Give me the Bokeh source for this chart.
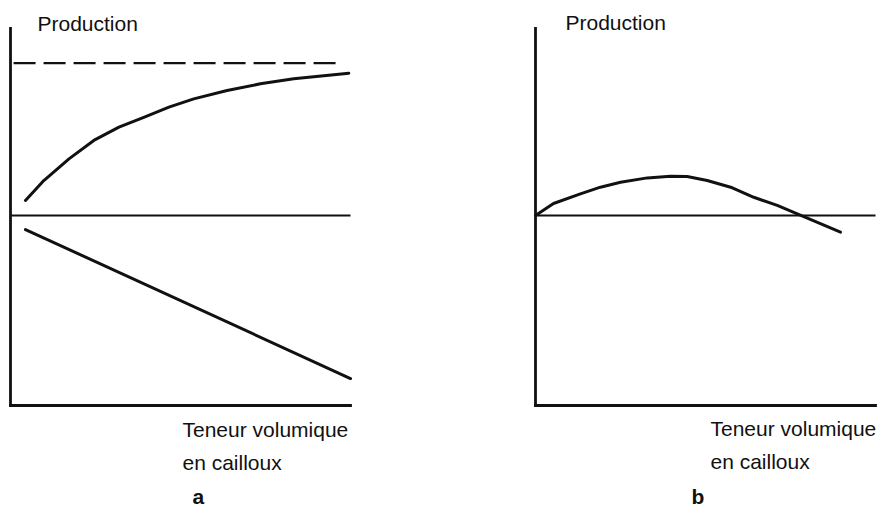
from bokeh.plotting import figure
from bokeh.layouts import row
from bokeh.models import Range1d, FixedTicker
from bokeh.embed import file_html
from bokeh.resources import INLINE
from bokeh.core.properties import value

# ---------------- data (x: stone content 0-100, y: production, 0 = reference) ----
# panel a
curve_a_x = [4.4, 9.8, 17.2, 24.5, 31.9, 39.2, 46.6, 53.9, 63.7, 73.5, 83.3, 99.5]
curve_a_y = [7.9, 18.4, 29.8, 39.5, 46.5, 51.7, 57.0, 61.4, 65.8, 69.3, 72.0, 74.9]
line_a_x = [4.4, 100.0]
line_a_y = [-7.4, -85.8]
plateau_a_x = [0.9, 97.1]
plateau_a_y = [80.2, 80.2]
# panel b
curve_b_x = [0.0, 5.3, 13.2, 19.1, 25.0, 32.9, 39.7, 44.6, 50.5, 57.4, 64.2, 71.1, 77.0, 89.7]
curve_b_y = [0.0, 6.3, 11.4, 14.9, 17.5, 19.8, 20.7, 20.5, 18.4, 14.9, 9.6, 5.3, 0.9, -8.8]

reference_level = 0.0
x_axis_end = 100.0
y_axis_start = -100.0
y_axis_end = 98.4

y_title = "Production"
x_title_1 = "Teneur volumique"
x_title_2 = "en cailloux"
panel_names = ["a", "b"]

# ---------------- layout ----------------
W, H = 440, 510
PX_X, PX_Y = 3.4, 1.9          # pixels per data unit
ZERO_PAGE_Y = 215              # page y of reference level
FONT = value("Liberation Sans")
INK = "#111111"


def make_panel(canvas_left, origin_x):
    x0 = (canvas_left - origin_x) / PX_X
    x1 = (canvas_left + W - origin_x) / PX_X
    y1 = ZERO_PAGE_Y / PX_Y
    y0 = -(H - ZERO_PAGE_Y) / PX_Y
    p = figure(width=W, height=H, x_range=Range1d(x0, x1), y_range=Range1d(y0, y1),
               output_backend="svg", toolbar_location=None, min_border=0,
               background_fill_color="white", border_fill_color="white")
    p.outline_line_color = None
    p.grid.visible = False
    for ax in p.axis:
        ax.ticker = FixedTicker(ticks=[])
        ax.major_tick_line_color = None
        ax.minor_tick_line_color = None
        ax.major_label_text_color = None
        ax.axis_line_width = 2.8
        ax.axis_line_color = INK
        ax.axis_line_cap = "square"
    p.yaxis.fixed_location = 0
    p.yaxis.bounds = (y_axis_start, y_axis_end)
    p.xaxis.fixed_location = y_axis_start
    p.xaxis.bounds = (0, x_axis_end)

    def to_data(px, py):
        return (px - origin_x) / PX_X, (ZERO_PAGE_Y - py) / PX_Y

    def text(px, py, s, bold=False):
        x, y = to_data(px, py)
        p.text(x=[x], y=[y], text=[s], text_font=FONT, text_font_size="21px",
               text_font_style="bold" if bold else "normal",
               text_color=INK, text_align="left", text_baseline="middle")

    p.line([0, x_axis_end], [reference_level, reference_level], line_color=INK, line_width=2.2)
    return p, text


pa, ta = make_panel(0, 10)
pa.line(plateau_a_x, plateau_a_y, line_color=INK, line_width=2.2, line_dash="22 8")
pa.line(curve_a_x, curve_a_y, line_color=INK, line_width=3, line_join="round", line_cap="round")
pa.line(line_a_x, line_a_y, line_color=INK, line_width=3, line_cap="round")
ta(37, 23, y_title)
ta(182, 429, x_title_1)
ta(182, 462, x_title_2)
ta(192, 496, panel_names[0], bold=True)

pb, tb = make_panel(440, 535)
pb.line(curve_b_x, curve_b_y, line_color=INK, line_width=3, line_join="round", line_cap="round")
tb(565, 22, y_title)
tb(710, 428, x_title_1)
tb(710, 461, x_title_2)
tb(691, 496, panel_names[1], bold=True)

layout = row(pa, pb, spacing=0)
open("out.html", "w").write(file_html(layout, INLINE))
